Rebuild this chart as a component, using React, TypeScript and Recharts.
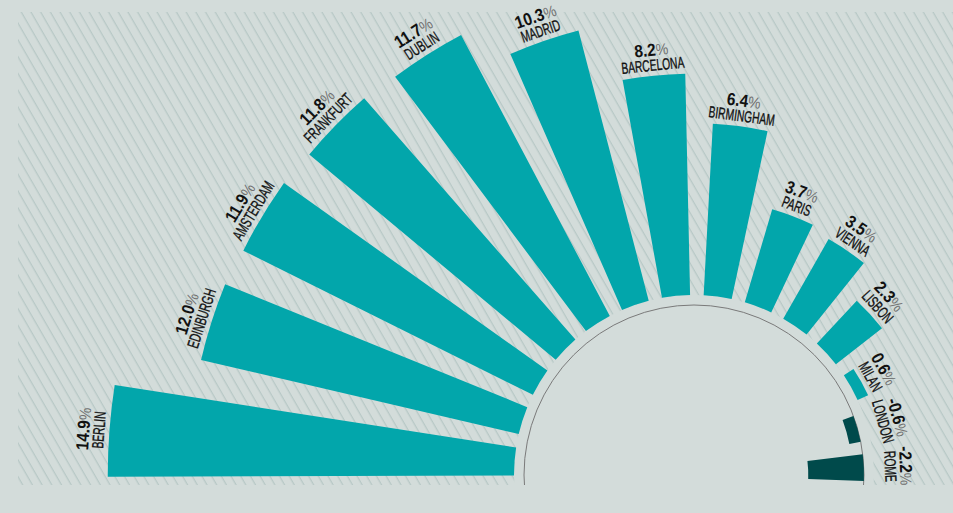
import { PolarAngleAxis, PolarRadiusAxis, RadialBar, RadialBarChart, Sector } from 'recharts';

const CITIES = [
  'BERLIN',
  'EDINBURGH',
  'AMSTERDAM',
  'FRANKFURT',
  'DUBLIN',
  'MADRID',
  'BARCELONA',
  'BIRMINGHAM',
  'PARIS',
  'VIENNA',
  'LISBON',
  'MILAN',
  'LONDON',
  'ROME',
];
const GROWTH = [14.9, 12.0, 11.9, 11.8, 11.7, 10.3, 8.2, 6.4, 3.7, 3.5, 2.3, 0.6, -0.6, -2.2];
const RADIUS_DOMAIN: [number, number] = [-5, 15];

const W = 953;
const H = 513;
const CX = 694;
const CY = 475;
// zero sits on the ring at 175px, ~27.6px per percentage point
const INNER_R = 37;
const OUTER_R = 589;
const ZERO_R = INNER_R + ((0 - RADIUS_DOMAIN[0]) / (RADIUS_DOMAIN[1] - RADIUS_DOMAIN[0])) * (OUTER_R - INNER_R);
const GAP = 5;
// recharts places each bar one band above the reversed band start, so the fan is shifted down by one band
const BAND = 186.5 / CITIES.length;
const START_ANGLE = 182.5 - BAND;
const END_ANGLE = -4 - BAND;

const BG = '#d3dcda';
const TEAL = '#02a6ab';
const DARK = '#004a4b';
const FONT = "'Liberation Sans', Arial, sans-serif";

const data = CITIES.map((city, i) => ({ city, growth: GROWTH[i] }));

function CityBar(props: any) {
  const { cx, cy, innerRadius, outerRadius, startAngle, endAngle, payload } = props;
  const v: number = payload.growth;
  const a = Math.min(innerRadius, outerRadius);
  const b = Math.max(innerRadius, outerRadius);
  const zeroR = v >= 0 ? a : b;
  const endR = v >= 0 ? b : a;
  const rIn = v >= 0 ? zeroR + GAP : endR;
  const rOut = v >= 0 ? endR : zeroR - GAP;

  const mid = (startAngle + endAngle) / 2;
  const labelR = v >= 0 ? endR + 3 : zeroR + 14;
  const rad = (mid * Math.PI) / 180;
  const lx = cx + labelR * Math.cos(rad);
  const ly = cy - labelR * Math.sin(rad);
  const rot = 90 - mid;

  return (
    <g>
      <Sector
        cx={cx}
        cy={cy}
        innerRadius={rIn}
        outerRadius={rOut}
        startAngle={startAngle}
        endAngle={endAngle}
        fill={v >= 0 ? TEAL : DARK}
      />
      <g transform={`translate(${lx},${ly}) rotate(${rot})`} fontFamily={FONT}>
        <g transform="scale(0.64,1)">
          <text x={0} y={-2} textAnchor="middle" fontSize={16} fill="#111" stroke="#111" strokeWidth={0.35}>
            {payload.city}
          </text>
        </g>
        <g transform="scale(0.88,1)">
          <text x={0} y={-17} textAnchor="middle" fontSize={17.5}>
            <tspan fontWeight={700} fill="#111">
              {v.toFixed(1)}
            </tspan>
            <tspan fontSize={16} fill="#707070">
              %
            </tspan>
          </text>
        </g>
      </g>
    </g>
  );
}

export default function App() {
  return (
    <div style={{ position: 'absolute', left: 0, top: 0, width: W, height: H, background: BG, overflow: 'hidden' }}>
      <svg width={W} height={H} style={{ position: 'absolute', left: 0, top: 0 }}>
        <defs>
          <pattern id="hatch" width="8.4" height="8.4" patternUnits="userSpaceOnUse" patternTransform="rotate(-30)">
            <line x1="4" y1="-1" x2="4" y2="9.4" stroke="#b6c7c5" strokeWidth="1.2" />
          </pattern>
        </defs>
        <rect x={18} y={12} width={W - 18} height={473} fill="url(#hatch)" />
        <circle cx={CX} cy={CY} r={ZERO_R + GAP} fill={BG} />
        <circle cx={CX} cy={CY} r={ZERO_R - GAP} fill="none" stroke="#7a7a7a" strokeWidth={1} />
        <rect x={0} y={485} width={W} height={H - 485} fill={BG} />
      </svg>
      <div style={{ position: 'absolute', left: 0, top: 0 }}>
        <RadialBarChart
          width={W}
          height={H}
          data={data}
          layout="centric"
          cx={CX}
          cy={CY}
          innerRadius={INNER_R}
          outerRadius={OUTER_R}
          startAngle={START_ANGLE}
          endAngle={END_ANGLE}
          barCategoryGap="15%"
          margin={{ top: 0, right: 0, bottom: 0, left: 0 }}
        >
          <PolarAngleAxis type="category" dataKey="city" tick={false} axisLine={false} />
          <PolarRadiusAxis type="number" domain={RADIUS_DOMAIN} tick={false} axisLine={false} />
          <RadialBar dataKey="growth" isAnimationActive={false} shape={CityBar} />
        </RadialBarChart>
      </div>
    </div>
  );
}
